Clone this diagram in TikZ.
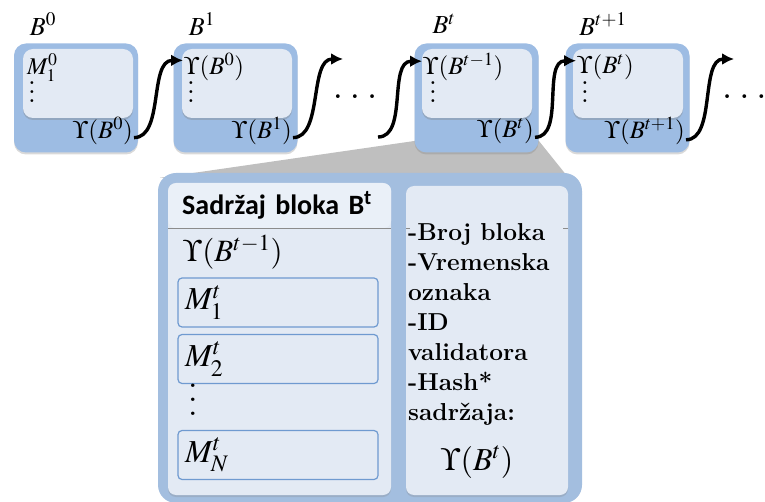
\documentclass[tikz,border=0pt]{standalone}
\usepackage{mathptmx}
\usepackage{fontspec}
\newfontfamily\hdrfont{Carlito}
\usepackage{tikz}
\usetikzlibrary{shapes, arrows.meta, shadows}
\pgfdeclarelayer{background}
\pgfsetlayers{background, main}
\definecolor{blockblue}{HTML}{9DBCE3}
\definecolor{bigblue}{HTML}{A3BEDF}
\definecolor{panelblue}{HTML}{E3EAF4}
\definecolor{headblue}{HTML}{EAF0F8}
\definecolor{mline}{HTML}{6F9AD0}
\newcommand{\hashsize}{\fontsize{25}{25}\selectfont}
\tikzstyle{block} = [fill=blockblue, rectangle, rounded corners=12pt, minimum width=124pt, minimum height=109pt, drop shadow={shadow xshift=0pt, shadow yshift=-2pt, opacity=0.3}]
\tikzstyle{content} = [fill=panelblue, rectangle, rounded corners=10pt, minimum width=110pt, minimum height=69pt, drop shadow={shadow xshift=0pt, shadow yshift=-2pt, opacity=0.35}]
\tikzstyle{hashtxt} = [inner sep=1pt, font=\hashsize]
\tikzstyle{blabel} = [inner sep=1pt, font=\fontsize{26}{26}\selectfont]
\tikzstyle{vdotsnode} = [inner sep=0pt, align=center, font=\rmfamily\bfseries\fontsize{20}{9}\selectfont]
\tikzstyle{chain} = [line width=3.4pt, ->]
\tikzstyle{panel} = [fill=panelblue, rectangle, rounded corners=8pt, drop shadow={shadow xshift=0pt, shadow yshift=-2pt, opacity=0.25}]
\tikzstyle{mbox} = [draw=mline, line width=1.2pt, fill=panelblue, rectangle, rounded corners=4pt, minimum height=49pt, text width=186pt, inner xsep=7pt, align=left, font=\fontsize{32}{32}\selectfont]
\tikzstyle{sepline} = [draw=black!45, line width=1pt]

\begin{document}
\begin{tikzpicture}[auto, x=1pt, y=-1pt, >={Latex[length=12pt, width=12pt]}]
  \useasboundingbox (0, 0) rectangle (765, 502);

  \node[block] at (76, 98) (b0) {};
  \node[block] at (235.5, 98) (b1) {};
  \node[block] at (476.5, 98) (bt) {};
  \node[block] at (627.5, 98) (bn) {};
  \node[content] at (78, 83.5) (c0) {};
  \node[content] at (237, 83.5) (c1) {};
  \node[content] at (477, 83.5) (ct) {};
  \node[content] at (628, 83.5) (cn) {};

  \node[blabel] at (43, 24) (l0) {$B^0$};
  \node[blabel] at (202, 24) (l1) {$B^1$};
  \node[blabel] at (444, 24) (lt) {$B^t$};
  \node[blabel] at (603, 24) (ln) {$B^{t+1}$};

  \node[hashtxt, anchor=west, font=\fontsize{24}{24}\selectfont] at (26, 68) (m0) {$M_1^0$};
  \node[hashtxt, anchor=west] at (183, 67) (p1) {$\Upsilon(B^0)$};
  \node[hashtxt, anchor=west] at (422, 67) (pt) {$\Upsilon(B^{t-1})$};
  \node[hashtxt, anchor=west] at (576, 67) (pn) {$\Upsilon(B^t)$};

  \node[vdotsnode] at (32, 92) (v0) {.\\.\\.};
  \node[vdotsnode] at (191, 92) (v1) {.\\.\\.};
  \node[vdotsnode] at (433, 92) (vt) {.\\.\\.};
  \node[vdotsnode] at (585, 92) (vn) {.\\.\\.};

  \node[hashtxt, anchor=east] at (134, 131) (h0) {$\Upsilon(B^0)$};
  \node[hashtxt, anchor=east] at (293, 131) (h1) {$\Upsilon(B^1)$};
  \node[hashtxt, anchor=east] at (535, 131) (ht) {$\Upsilon(B^t)$};
  \node[hashtxt, anchor=east] at (686, 131) (hn) {$\Upsilon(B^{t+1})$};

  \node[blabel, font=\rmfamily\bfseries\fontsize{26}{26}\selectfont] at (355, 97) (gap) {.\hspace{9pt}.\hspace{9pt}.};
  \node[blabel, anchor=west, font=\rmfamily\bfseries\fontsize{26}{26}\selectfont] at (722, 97) (tail) {.\hspace{9pt}.\hspace{9pt}.};
  \coordinate (gapin) at (343, 59);
  \coordinate (gapout) at (378, 137);
  \coordinate (tailin) at (734, 59);

  \draw[chain] (h0.-12) .. controls +(30, 0) and +(-34, 0) .. (p1.168);
  \draw[chain] (h1.-12) .. controls +(30, 0) and +(-34, 0) .. (gapin);
  \draw[chain] (gapout) .. controls +(30, 0) and +(-34, 0) .. (pt.172);
  \draw[chain] (ht.-12) .. controls +(30, 0) and +(-34, 0) .. (pn.168);
  \draw[chain] (hn.-12) .. controls +(30, 0) and +(-34, 0) .. (tailin);

  % zoomed content of block t
  \node[fill=bigblue, rectangle, rounded corners=18pt, minimum width=424pt, minimum height=330pt] at (370, 338) (big) {};
  \node[panel, minimum width=223pt, minimum height=312pt] at (279.5, 339) (body) {};
  \node[panel, minimum width=162pt, minimum height=309pt] at (487, 340.5) (info) {};
  \node[fill=headblue, rectangle, rounded corners=8pt, anchor=north west, minimum height=45pt, text width=195pt, inner xsep=14pt, align=left, font=\hdrfont\bfseries\fontsize{28}{28}\selectfont] at (168, 183) (hdr) {Sadržaj bloka B\textsuperscript{t}};
  \draw[sepline] (hdr.south west) -- (hdr.south east);
  \draw[sepline] (info.west |- hdr.south) -- +(4, 0);
  \draw[sepline] (info.east |- hdr.south) -- +(-5, 0);

  \node[hashtxt, anchor=west, font=\fontsize{31}{31}\selectfont] at (182, 252) (prev) {$\Upsilon(B^{t-1})$};
  \node[mbox] at (278, 302.5) (msg1) {$M_1^t$};
  \node[mbox] at (278, 359) (msg2) {$M_2^t$};
  \node[vdotsnode, font=\rmfamily\bfseries\fontsize{24}{14}\selectfont] at (193, 400) (vmid) {.\\.\\.};
  \node[mbox] at (278, 455) (msgn) {$M_N^t$};

  \node[anchor=west, align=left, inner sep=1pt, font=\rmfamily\bfseries\fontsize{24.5}{30}\selectfont] at (407, 324) (fields) {-Broj bloka\\-Vremenska\\oznaka\\-ID\\validatora\\-Hash*\\sadržaja:};
  \node[hashtxt, font=\fontsize{32}{32}\selectfont] at (477, 462) (own) {$\Upsilon(B^t)$};

  \begin{pgfonlayer}{background}
    \path (bt.south west)+(2, -12) coordinate (ga);
    \path (bt.south east)+(0, -12) coordinate (gb);
    \path (big.north east)+(0, 22) coordinate (gc);
    \path (big.north west)+(2, 5) coordinate (gd);
    \path[fill=black!25] (ga) -- (gb) -- (gc) -- (gd) -- cycle;
  \end{pgfonlayer}

\end{tikzpicture}
\end{document}
